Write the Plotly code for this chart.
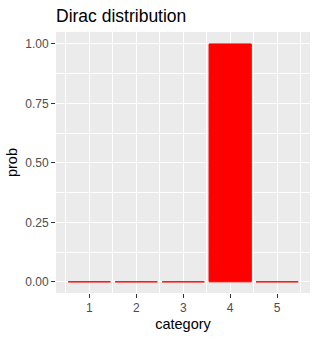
import plotly.graph_objects as go

categories = [1, 2, 3, 4, 5]
prob = [0.0, 0.0, 0.0, 1.0, 0.0]
y_ticks = [0.0, 0.25, 0.5, 0.75, 1.0]
y_tick_labels = ["0.00", "0.25", "0.50", "0.75", "1.00"]

fig = go.Figure()
fig.add_trace(go.Bar(
    x=categories, y=prob, width=0.9,
    marker=dict(color="#FF0000", line=dict(color="#FF0000", width=1)),
    showlegend=False, hoverinfo="x+y",
))

font_family = "Liberation Sans, Arial, sans-serif"
fig.update_layout(
    width=318, height=339,
    margin=dict(l=56, r=8, t=32, b=46),
    paper_bgcolor="white",
    plot_bgcolor="#EBEBEB",
    font=dict(family=font_family, color="black"),
    title=dict(text="Dirac distribution", x=56/318, xanchor="left",
               y=1-16/339, yanchor="middle",
               font=dict(size=17.5, color="black", family=font_family)),
    bargap=0.1,
)
fig.update_xaxes(
    range=[0.29, 5.7], tickvals=categories, ticktext=[str(c) for c in categories],
    showgrid=True, gridcolor="white", gridwidth=1.1,
    minor=dict(dtick=1, tick0=0.5, showgrid=True, gridcolor="white", gridwidth=0.55, ticks=""),
    ticks="outside", ticklen=4, tickcolor="#333333", tickwidth=1.1,
    tickfont=dict(size=12, color="#4D4D4D"),
    title=dict(text="category", font=dict(size=14.5, color="black"), standoff=4),
    zeroline=False, showline=False, fixedrange=True,
)
fig.update_yaxes(
    range=[-0.047, 1.05], tickvals=y_ticks, ticktext=y_tick_labels,
    showgrid=True, gridcolor="white", gridwidth=1.1,
    minor=dict(dtick=0.25, tick0=0.125, showgrid=True, gridcolor="white", gridwidth=0.55, ticks=""),
    ticks="outside", ticklen=4, tickcolor="#333333", tickwidth=1.1,
    tickfont=dict(size=12, color="#4D4D4D"),
    title=dict(text="prob", font=dict(size=14.5, color="black"), standoff=4),
    zeroline=False, showline=False, fixedrange=True,
)

fig.write_html("out.html", config={"displayModeBar": False})
